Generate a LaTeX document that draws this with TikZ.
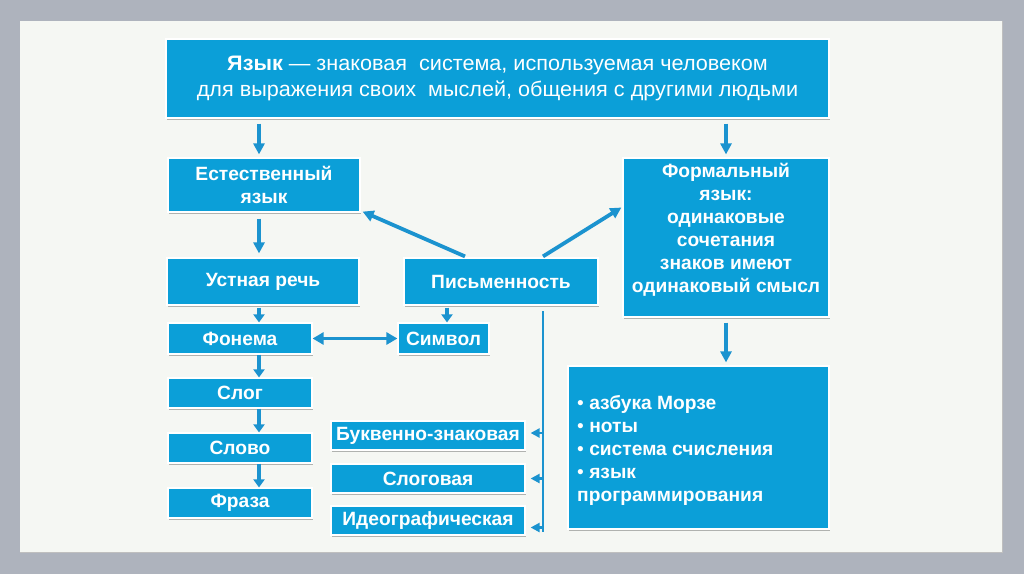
\documentclass[tikz,border=0pt]{standalone}
\usepackage{fontspec}
\setmainfont{Liberation Sans}
\newfontfamily\widefont{Liberation Sans}[FakeStretch=1.03]
\usetikzlibrary{arrows.meta,shadows,calc}
\definecolor{outergray}{HTML}{AEB3BD}
\definecolor{panelbg}{HTML}{F5F7F3}
\definecolor{boxblue}{HTML}{0B9FD8}
\definecolor{arrowblue}{HTML}{1B93CF}
\tikzset{
  box/.style={fill=boxblue, draw=white, line width=1.2pt, text=white,
    font=\bfseries\fontsize{19.2}{23.5}\selectfont, align=center, inner sep=0pt,
    drop shadow={shadow xshift=1.3pt, shadow yshift=-1.6pt, fill=black, opacity=0.28}},
  txt/.style={text=white, font=\bfseries\fontsize{19.2}{23}\selectfont, inner sep=0pt},
  arr/.style={draw=arrowblue, line width=3.8pt, -{Triangle[length=11pt,width=11pt]}},
  shortarr/.style={draw=arrowblue, line width=3.6pt, -{Triangle[length=8pt,width=11pt]}},
  darr/.style={draw=arrowblue, line width=3.8pt, {Triangle[length=11pt,width=12pt]}-{Triangle[length=11pt,width=12pt]}},
  sarr/.style={draw=arrowblue, line width=2.6pt, -{Triangle[length=9pt,width=9pt]}},
  vline/.style={draw=arrowblue, line width=2.8pt}
}
\begin{document}
\begin{tikzpicture}[x=1pt,y=-1pt]
\useasboundingbox (0,0) rectangle (1024,574);
\fill[outergray] (0,0) rectangle (1024,574);
\fill[panelbg] (20,21) rectangle (1002,552);
\draw[black!25, line width=0.8pt] (20,552.5) -- (1002.5,552.5) -- (1002.5,21);

% boxes
\node[box, minimum width=663pt, minimum height=79pt, font=\widefont\fontsize{21}{26}\selectfont] (top) at (497.5,78.5)
  {\textbf{Язык} — знаковая \ система, используемая человеком\\для выражения своих \ мыслей, общения с другими людьми};
\node[box, minimum width=192pt, minimum height=54pt] (nat) at (264,185) {Естественный\\язык};
\node[box, minimum width=192pt, minimum height=47pt] (ust) at (263,281.5) {Устная речь};
\node[box, minimum width=194pt, minimum height=47pt] (pis) at (501,281.5) {Письменность};
\node[box, minimum width=206pt, minimum height=159pt] (form) at (726,237.5) {};
\node[txt, align=center] (formtext) at (726,229.5) {Формальный\\язык:\\одинаковые\\сочетания\\знаков имеют\\одинаковый смысл};
\node[box, minimum width=144pt, minimum height=31pt] (fon) at (240,338.5) {Фонема};
\node[box, minimum width=91pt, minimum height=31pt] (sim) at (443.5,338.5) {Символ};
\node[box, minimum width=144pt, minimum height=30pt] (slog) at (240,393) {Слог};
\node[box, minimum width=144pt, minimum height=30pt] (slovo) at (240,448) {Слово};
\node[box, minimum width=144pt, minimum height=30pt] (fraza) at (240,503) {Фраза};
\node[box, minimum width=194pt, minimum height=29pt] (bukv) at (428,435.5) {Буквенно-знаковая};
\node[box, minimum width=194pt, minimum height=29pt] (slogov) at (428,478.5) {Слоговая};
\node[box, minimum width=194pt, minimum height=29pt] (ideo) at (428,520.5) {Идеографическая};
\node[box, minimum width=261pt, minimum height=163pt] (list) at (698.5,447.5) {};
\node[txt, align=left, anchor=west] (listtext) at (577,450)
  {{\mdseries•} азбука Морзе\\{\mdseries•} ноты\\{\mdseries•} система счисления\\{\mdseries•} язык\\программирования};

% connectors
\draw[arr] ([xshift=-5pt,yshift=-5pt]top.south -| nat.north) -- ([xshift=-5pt,yshift=3pt]nat.north);
\draw[arr] ([yshift=-5pt]top.south -| form.north) -- ([yshift=3pt]form.north);
\draw[arr] ([xshift=-5pt,yshift=-6pt]nat.south) -- ([xshift=-4pt,yshift=4pt]ust.north);
\draw[shortarr] ([xshift=-4pt,yshift=-2pt]ust.south) -- ([xshift=19pt,yshift=0pt]fon.north);
\draw[shortarr] ([xshift=3.5pt,yshift=-2pt]pis.south -| sim.north) -- ([xshift=3.5pt]sim.north);
\draw[darr] (fon.east) -- (sim.west);
\draw[shortarr] ([xshift=19pt]fon.south) -- ([xshift=19pt]slog.north);
\draw[shortarr] ([xshift=19pt]slog.south) -- ([xshift=19pt]slovo.north);
\draw[shortarr] ([xshift=19pt]slovo.south) -- ([xshift=19pt]fraza.north);
\draw[arr] ([xshift=-36pt,yshift=1pt]pis.north) -- ([xshift=2pt,yshift=1pt]nat.south east);
\draw[arr] ([xshift=42pt,yshift=1pt]pis.north) -- ([xshift=-1pt,yshift=30pt]form.west);
\draw[arr] ([yshift=-5pt]form.south) -- ([yshift=3pt]list.north -| form.south);

\coordinate (vtop) at (543,311);
\coordinate (vbot) at (543,532);
\draw[vline] (vtop) -- (vbot);
\draw[sarr] ([yshift=2.5pt]vtop |- bukv.east) -- ([xshift=5pt,yshift=2.5pt]bukv.east);
\draw[sarr] (vtop |- slogov.east) -- ([xshift=5pt]slogov.east);
\draw[sarr] ([yshift=-7pt]vtop |- ideo.east) -- ([xshift=5pt,yshift=-7pt]ideo.east);
\end{tikzpicture}
\end{document}
